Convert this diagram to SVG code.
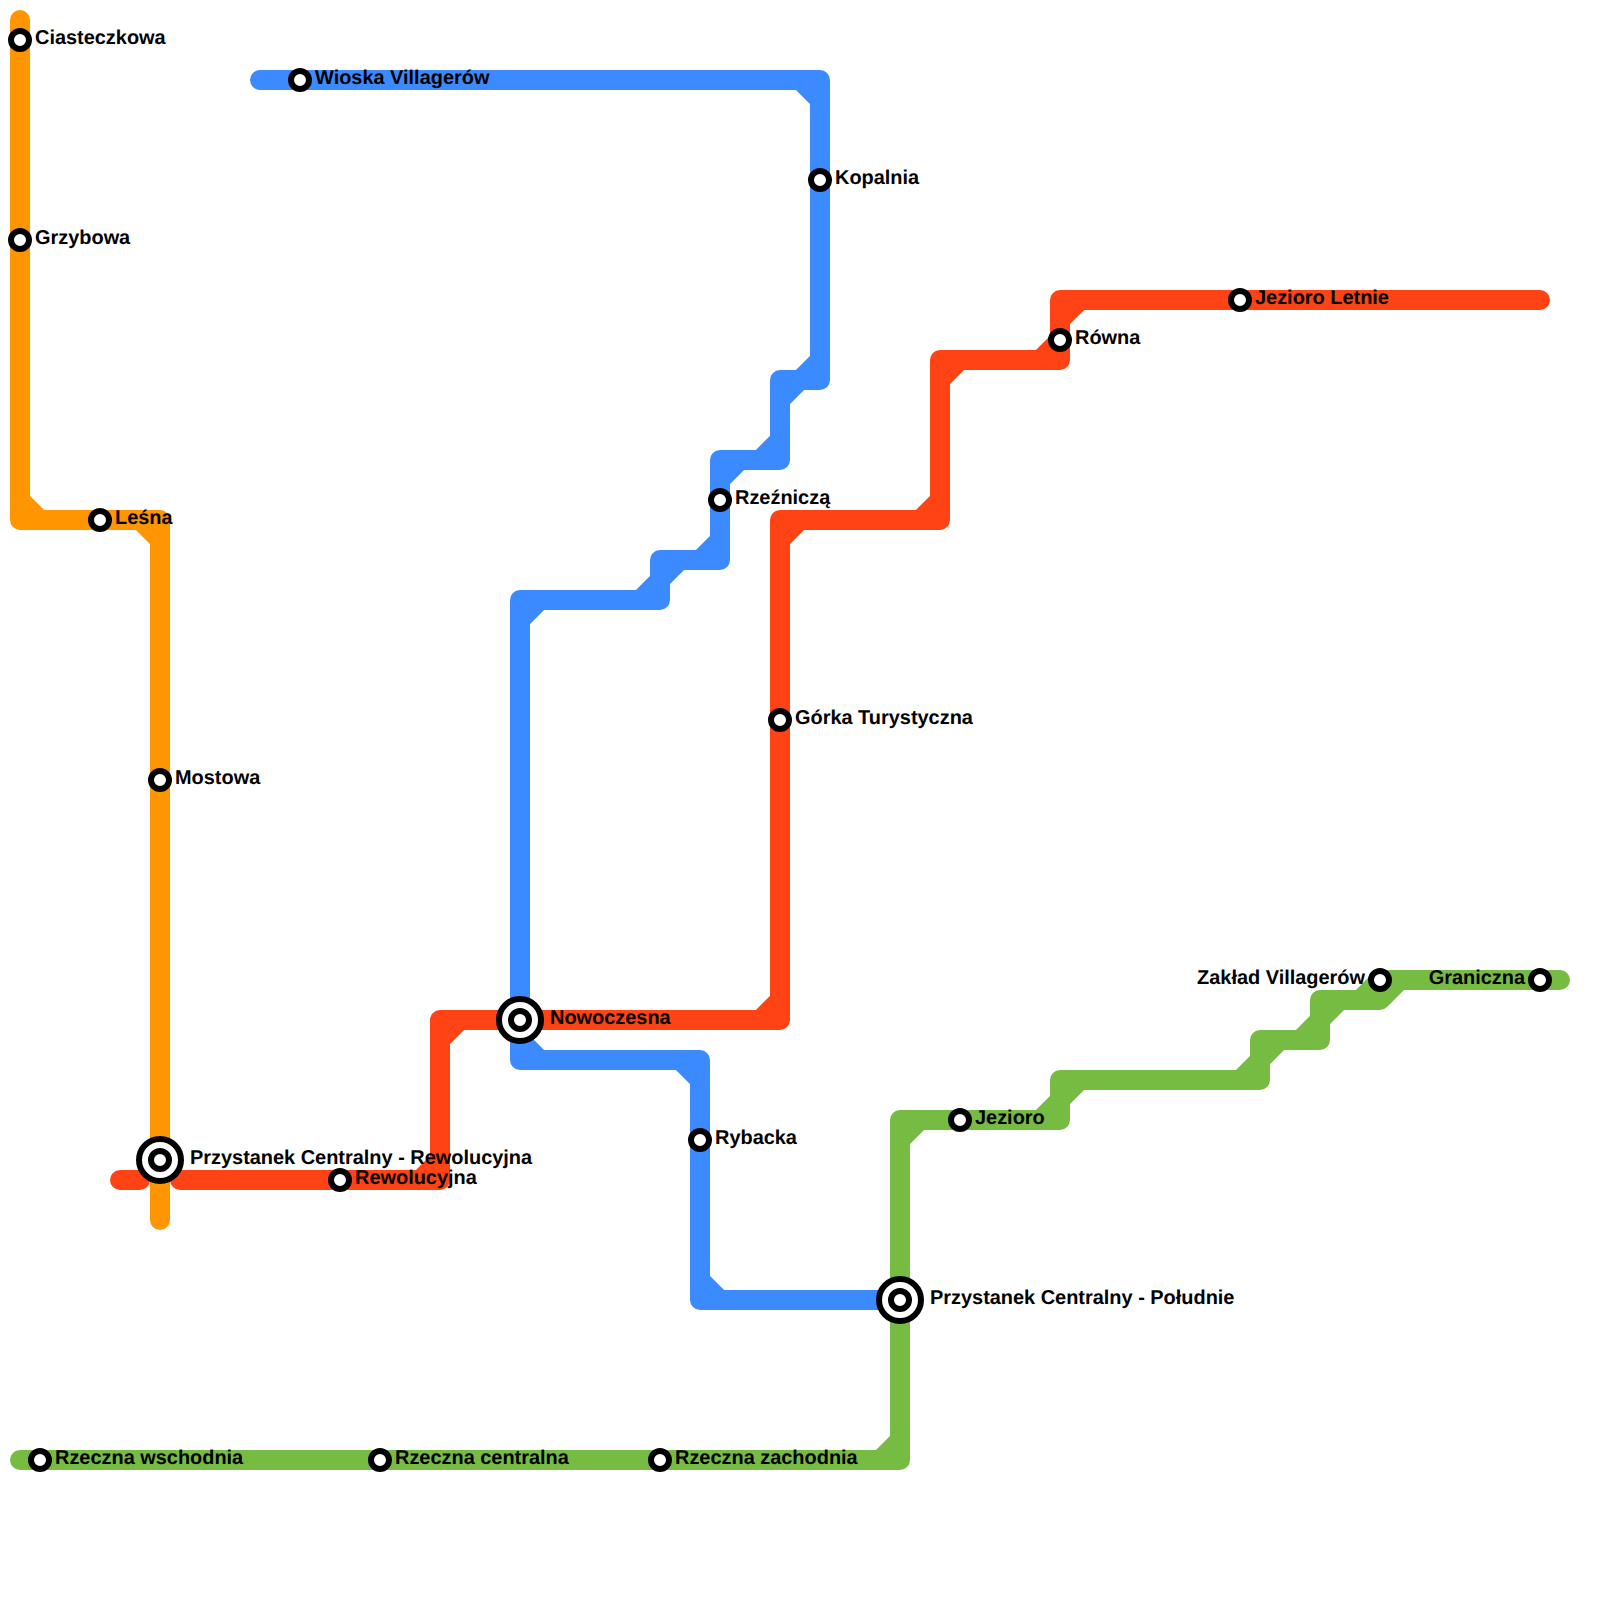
<svg xmlns="http://www.w3.org/2000/svg" width="1600" height="1600" viewBox="0 0 1600 1600">
<style>
.line{fill:none;stroke-width:20;stroke-linecap:round;stroke-linejoin:round}
.st{fill:#fff;stroke:#000;stroke-width:6}
text{font-family:"Liberation Sans",Arial,sans-serif;font-weight:700;font-size:19.93px;fill:#000;text-rendering:geometricPrecision}
.end{text-anchor:end}
</style>
<rect width="1600" height="1600" fill="#fff"/>
<g id="connectors">
<path id="line-red" class="line" stroke="#ff4314" d="M120,1180H140M180,1180H440V1020H780V520H940V360H1060V300H1540M420,1180L440,1160M440,1040L460,1020M760,1020L780,1000M780,540L800,520M920,520L940,500M940,380L960,360M1040,360L1060,340M1060,320L1080,300"/>
<path id="line-blue" class="line" stroke="#3c8aff" d="M260,80H820V380H780V460H720V560H660V600H520V1060H700V1300H900M800,80L820,100M800,380L820,360M780,400L800,380M760,460L780,440M720,480L740,460M700,560L720,540M660,580L680,560M640,600L660,580M520,620L540,600M520,1040L540,1060M680,1060L700,1080M700,1280L720,1300"/>
<path id="line-orange" class="line" stroke="#ff9500" d="M20,20V520H160V1220M20,500L40,520M140,520L160,540"/>
<path id="line-green" class="line" stroke="#76bc43" d="M20,1460H900V1120H1060V1080H1260V1040H1320V1000H1380V980H1560M880,1460L900,1440M900,1140L920,1120M1040,1120L1060,1100M1060,1100L1080,1080M1240,1080L1260,1060M1260,1060L1280,1040M1300,1040L1320,1020M1320,1020L1340,1000M1360,1000L1380,980M1380,1000L1400,980"/>
</g>
<g id="n-ciasteczkowa"><circle class="st" cx="20" cy="40" r="9"/><text x="35" y="44.4">Ciasteczkowa</text></g>
<g id="n-grzybowa"><circle class="st" cx="20" cy="240" r="9"/><text x="35" y="244.4">Grzybowa</text></g>
<g id="n-lesna"><circle class="st" cx="100" cy="520" r="9"/><text x="115" y="524.4">Leśna</text></g>
<g id="n-mostowa"><circle class="st" cx="160" cy="780" r="9"/><text x="175" y="784.4">Mostowa</text></g>
<g id="n-pc-rewolucyjna"><circle class="st" cx="160" cy="1160" r="21"/><circle class="st" cx="160" cy="1160" r="9"/><text x="190" y="1164.4">Przystanek Centralny - Rewolucyjna</text></g>
<g id="n-rewolucyjna"><circle class="st" cx="340" cy="1180" r="9"/><text x="355" y="1184.4">Rewolucyjna</text></g>
<g id="n-wioska"><circle class="st" cx="300" cy="80" r="9"/><text x="315" y="84.4">Wioska Villagerów</text></g>
<g id="n-kopalnia"><circle class="st" cx="820" cy="180" r="9"/><text x="835" y="184.4">Kopalnia</text></g>
<g id="n-rzezniczą"><circle class="st" cx="720" cy="500" r="9"/><text x="735" y="504.4">Rzeźniczą</text></g>
<g id="n-nowoczesna"><circle class="st" cx="520" cy="1020" r="21"/><circle class="st" cx="520" cy="1020" r="9"/><text x="550" y="1024.4">Nowoczesna</text></g>
<g id="n-rybacka"><circle class="st" cx="700" cy="1140" r="9"/><text x="715" y="1144.4">Rybacka</text></g>
<g id="n-gorka"><circle class="st" cx="780" cy="720" r="9"/><text x="795" y="724.4">Górka Turystyczna</text></g>
<g id="n-rowna"><circle class="st" cx="1060" cy="340" r="9"/><text x="1075" y="344.4">Równa</text></g>
<g id="n-jezioro-letnie"><circle class="st" cx="1240" cy="300" r="9"/><text x="1255" y="304.4">Jezioro Letnie</text></g>
<g id="n-pc-poludnie"><circle class="st" cx="900" cy="1300" r="21"/><circle class="st" cx="900" cy="1300" r="9"/><text x="930" y="1304.4">Przystanek Centralny - Południe</text></g>
<g id="n-jezioro"><circle class="st" cx="960" cy="1120" r="9"/><text x="975" y="1124.4">Jezioro</text></g>
<g id="n-zaklad"><circle class="st" cx="1380" cy="980" r="9"/><text class="end" x="1365" y="984.4">Zakład Villagerów</text></g>
<g id="n-graniczna"><circle class="st" cx="1540" cy="980" r="9"/><text class="end" x="1525" y="984.4">Graniczna</text></g>
<g id="n-rz-wschodnia"><circle class="st" cx="40" cy="1460" r="9"/><text x="55" y="1464.4">Rzeczna wschodnia</text></g>
<g id="n-rz-centralna"><circle class="st" cx="380" cy="1460" r="9"/><text x="395" y="1464.4">Rzeczna centralna</text></g>
<g id="n-rz-zachodnia"><circle class="st" cx="660" cy="1460" r="9"/><text x="675" y="1464.4">Rzeczna zachodnia</text></g>
</svg>
